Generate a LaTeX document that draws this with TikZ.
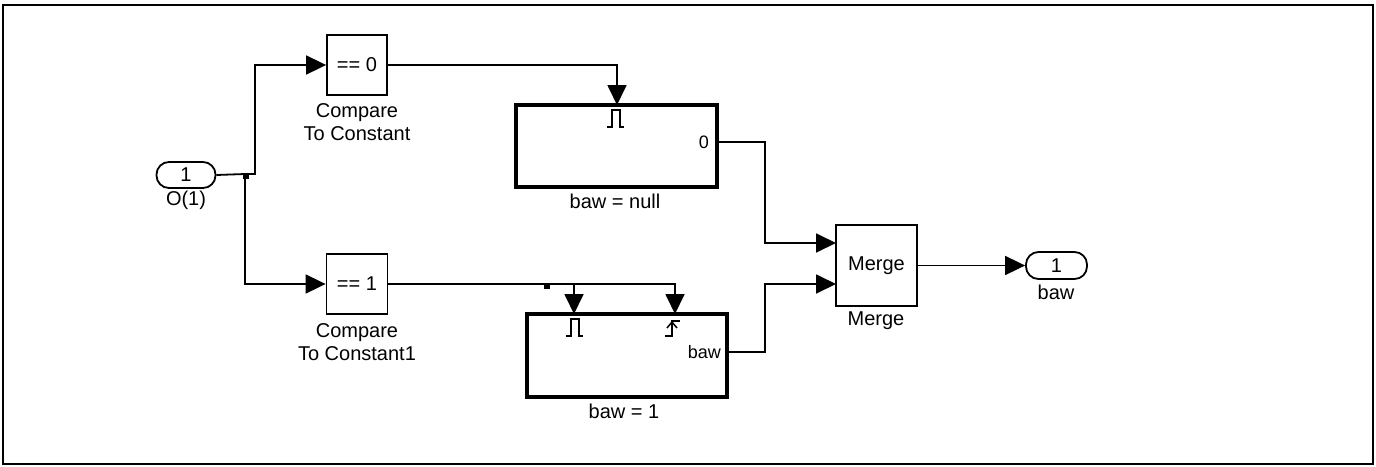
\documentclass[tikz,border=0pt]{standalone}
\usepackage{fontspec}
\setmainfont{Liberation Sans}
\usetikzlibrary{arrows.meta}
\begin{document}
\begin{tikzpicture}[x=1pt,y=-1pt,
  font=\fontsize{20}{23}\selectfont,
  wire/.style={line width=1.8pt},
  sig/.style={wire,-{Triangle[length=20pt,width=19pt]}},
  blk/.style={draw,line width=1.8pt,inner sep=0pt},
  sub/.style={draw,line width=4.5pt,inner sep=0pt},
  port/.style={draw,line width=1.8pt,rounded corners=12.5pt,inner sep=0pt},
  lbl/.style={align=center,inner sep=0pt},
  plbl/.style={inner sep=0pt,font=\fontsize{18}{21}\selectfont},
  dot/.style={fill=black,inner sep=0pt,minimum size=6pt}]
\useasboundingbox (0,0) rectangle (1376,466);
\draw[line width=2pt] (3,5) rectangle (1373,464);
% blocks
\node[port,minimum width=59pt,minimum height=26pt] (in1) at (186,175) {1};
\node[lbl] (lin) at (186,200) {O(1)};
\node[blk,minimum width=60pt,minimum height=60pt] (c0) at (357,65) {== 0};
\node[lbl] (lc0) at (357,122) {Compare\\To Constant};
\node[blk,minimum width=61pt,minimum height=60pt] (c1) at (357,284) {== 1};
\node[lbl] (lc1) at (357,342) {Compare\\To Constant1};
\node[sub,minimum width=201pt,minimum height=82pt] (b0) at (616.5,146) {};
\node[lbl] (lb0) at (615,201) {baw = null};
\node[sub,minimum width=200pt,minimum height=83pt] (b1) at (627,355.5) {};
\node[lbl] (lb1) at (624,411) {baw = 1};
\node[blk,minimum width=81pt,minimum height=81pt] (mg) at (876.5,265.5) {Merge};
\node[lbl] (lmg) at (876,321) {Merge};
\node[port,minimum width=61pt,minimum height=27pt] (out) at (1056.5,265.5) {1};
\node[lbl] (lout) at (1056,292) {baw};
% port labels
\node[plbl,anchor=east] (p0) at (709,142) {0};
\node[plbl,anchor=east] (p1) at (721,352) {baw};
% trigger symbols
\draw[line width=1.5pt] (607,127) -- (612,127) -- (612,110) -- (620,110) -- (620,127) -- (624,127);
\draw[line width=1.5pt] (566,336) -- (571,336) -- (571,319) -- (579,319) -- (579,336) -- (583,336);
\draw[line width=1.5pt] (665,336) -- (672,336) -- (672,321) -- (680,321);
\draw[line width=1.5pt] (667,328) -- (672,322) -- (677,328);
% coordinates
\coordinate (br0) at (245,174);
\coordinate (b0in) at (617,105);
\coordinate (b0out) at (717,142);
\coordinate (br1) at (547,284);
\coordinate (b1in1) at (574,314);
\coordinate (b1in2) at (675,314);
\coordinate (b1out) at (727,352);
\coordinate (m1) at (836,243);
\coordinate (m2) at (836,284);
% wires
\draw[wire] (in1.east) -- (br0);
\draw[sig] (br0) -- (255,174) |- (c0.west);
\draw[sig] (br0) |- (c1.west);
\node[dot] (d0) at (246,176) {};
\draw[sig] (c0.east) -| (b0in);
\draw[wire] (c1.east) -- (br1);
\draw[sig] (br1) -| (b1in1);
\draw[sig] (br1) -| (b1in2);
\node[dot] (d1) at (547,286) {};
\draw[sig] (b0out) -- (765,142) |- (m1);
\draw[sig] (b1out) -- (765,352) |- (m2);
\draw[sig] (mg.east) -- (out.west);
\end{tikzpicture}
\end{document}
